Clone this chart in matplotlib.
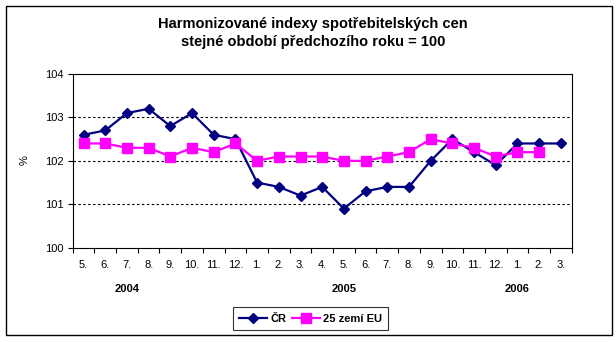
import numpy as np
from matplotlib import pyplot as plt
from matplotlib.patches import Rectangle

plt.rcParams['font.family'] = ['Liberation Sans', 'DejaVu Sans']

months = ['5.', '6.', '7.', '8.', '9.', '10.', '11.', '12.',
          '1.', '2.', '3.', '4.', '5.', '6.', '7.', '8.', '9.', '10.', '11.', '12.',
          '1.', '2.', '3.']
years = ['2004', '2005', '2006']
year_pos = [2, 12, 20]

cr = [102.6, 102.7, 103.1, 103.2, 102.8, 103.1, 102.6, 102.5,
      101.5, 101.4, 101.2, 101.4, 100.9, 101.3, 101.4, 101.4, 102.0, 102.5, 102.2, 101.9,
      102.4, 102.4, 102.4]
eu25 = [102.4, 102.4, 102.3, 102.3, 102.1, 102.3, 102.2, 102.4,
        102.0, 102.1, 102.1, 102.1, 102.0, 102.0, 102.1, 102.2, 102.5, 102.4, 102.3, 102.1,
        102.2, 102.2]

fig = plt.figure(figsize=(6.16, 3.42), dpi=100)
W, H = 616.0, 342.0

# outer frame
fig.patches.append(Rectangle((6/W, 1-335/H), 606/W, 329/H, transform=fig.transFigure,
                             fill=False, edgecolor='black', linewidth=1))

ax = fig.add_axes([72.7/W, 1-247.7/H, 499/W, 173.7/H])

x = np.arange(len(months))
ax.plot(x, cr, color='#000080', linewidth=1.6, marker='D', markersize=5,
        label='ČR')
ax.plot(np.arange(len(eu25)), eu25, color='#FF00FF', linewidth=1.6, marker='s',
        markersize=7, label='25 zemí EU')

ax.set_xlim(-0.5, len(months)-0.5)
ax.set_ylim(100, 104)
ax.set_yticks([100, 101, 102, 103, 104])
ax.set_yticklabels(['100', '101', '102', '103', '104'], fontsize=8)
for yv in [101, 102, 103]:
    ax.axhline(yv, color='black', linestyle=(0, (2.2, 2.2)), linewidth=0.8, zorder=0)

ax.set_xticks(np.arange(len(months)+1)-0.5)
ax.set_xticklabels([])
ax.set_xticks(x, minor=True)
ax.set_xticklabels(months, minor=True, fontsize=8)
ax.tick_params(axis='x', which='major', direction='out', length=3.6, width=0.8)
ax.tick_params(axis='x', which='minor', length=0, pad=8.5)
ax.tick_params(axis='y', direction='out', length=3.6, width=0.8, pad=3)

for yr, p in zip(years, year_pos):
    ax.text(p, -0.238, yr, transform=ax.get_xaxis_transform(), ha='center', va='center',
            fontsize=8, fontweight='bold')

for s in ax.spines.values():
    s.set_linewidth(0.8)

fig.text(25/W, 1-160/H, '%', rotation=90, ha='center', va='center', fontsize=8)

fig.text(313/W, 1-24/H, 'Harmonizované indexy spotřebitelských cen', ha='center', va='center',
         fontsize=10.5, fontweight='bold')
fig.text(313/W, 1-42/H, 'stejné období předchozího roku = 100', ha='center', va='center',
         fontsize=10.5, fontweight='bold')

leg = fig.legend(loc='center', bbox_to_anchor=(310.5/W, 1-318.5/H), ncol=2,
                 prop={'size': 8, 'weight': 'bold'}, frameon=True, fancybox=False,
                 handlelength=2.5, handletextpad=0.3, columnspacing=0.5,
                 borderpad=0.55, borderaxespad=0)
leg.get_frame().set_edgecolor('black')
leg.get_frame().set_linewidth(0.8)

fig.savefig('out.png', dpi=100)
